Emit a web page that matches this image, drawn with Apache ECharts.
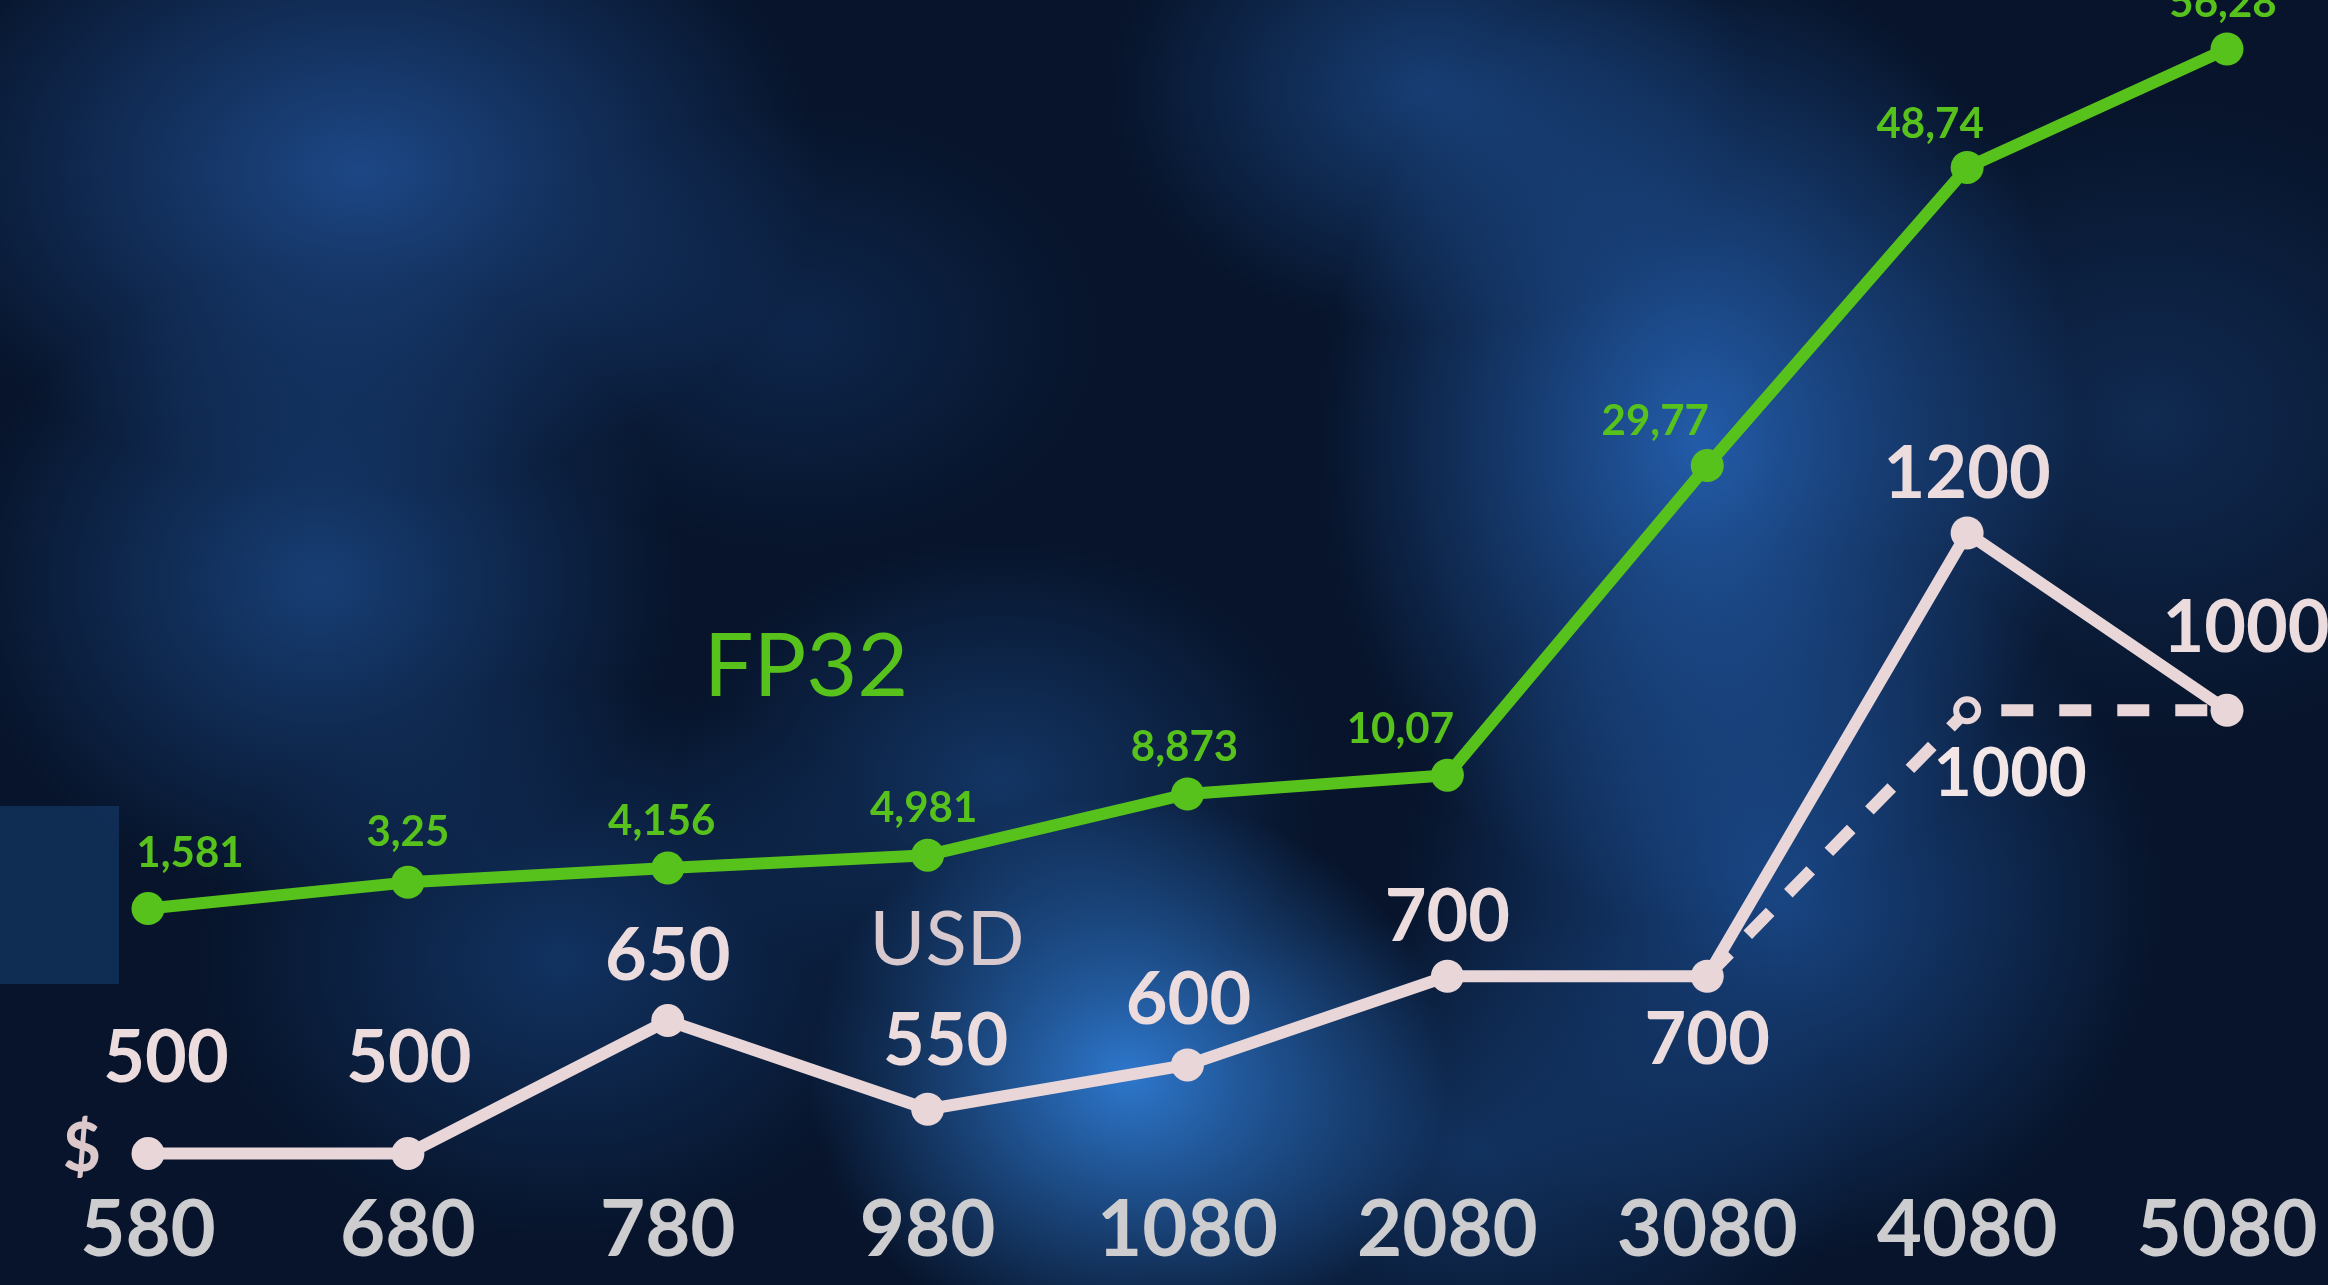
<!DOCTYPE html>
<html>
<head>
<meta charset="utf-8">
<script src="https://cdn.jsdelivr.net/npm/echarts@6/dist/echarts.min.js"></script>
<style>
html,body{margin:0;padding:0;background:#061226;}
#chart{width:2328px;height:1285px;
background:
 radial-gradient(ellipse 320px 280px at 1128px 1075px, rgba(50,130,222,0.9), rgba(50,130,222,0) 100%),
 radial-gradient(ellipse 380px 480px at 1700px 440px, rgba(40,105,192,0.85), rgba(40,105,192,0) 100%),
 radial-gradient(ellipse 380px 360px at 1780px 900px, rgba(32,90,168,0.7), rgba(32,90,168,0) 100%),
 radial-gradient(ellipse 460px 320px at 360px 170px, rgba(34,84,156,0.8), rgba(34,84,156,0) 100%),
 radial-gradient(ellipse 360px 320px at 320px 580px, rgba(30,80,148,0.7), rgba(30,80,148,0) 100%),
 radial-gradient(ellipse 360px 280px at 560px 960px, rgba(24,70,132,0.6), rgba(24,70,132,0) 100%),
 radial-gradient(ellipse 320px 240px at 1430px 90px, rgba(30,80,148,0.7), rgba(30,80,148,0) 100%),
 radial-gradient(ellipse 380px 320px at 2150px 420px, rgba(24,60,112,0.55), rgba(24,60,112,0) 100%),
 radial-gradient(ellipse 320px 240px at 1000px 780px, rgba(27,75,138,0.6), rgba(27,75,138,0) 100%),
 radial-gradient(ellipse 380px 240px at 1480px 1150px, rgba(27,75,138,0.55), rgba(27,75,138,0) 100%),
 radial-gradient(ellipse 300px 220px at 800px 330px, rgba(22,60,115,0.45), rgba(22,60,115,0) 100%),
 #07142b;}
</style>
</head>
<body>
<div id="chart"></div>
<script>
// ---- data ----
const categories = ['580', '680', '780', '980', '1080', '2080', '3080', '4080', '5080'];
const fp32 = [1.581, 3.25, 4.156, 4.981, 8.873, 10.07, 29.77, 48.74, 56.28];
const usd = [500, 500, 650, 550, 600, 700, 700, 1200, 1000];
const usdAlt = [null, null, null, null, null, null, 700, 1000, 1000];
const usdAltLabelIndex = 7;

// ---- label layout (style only) ----
const fpLabelOffsets = [[42,-55],[0,-50],[-6,-47],[-4,-47],[-3,-47],[-47,-46],[-52,-44],[-37,-43],[-4,-46]];
const usdLabelOffsets = [[18,-95],[1,-95],[0,-64],[18,-67],[1,-64],[0,-58],[0,65],[0,-58],[19,-82]];
const usdAltLabelOffset = [43, 64];

const GREEN = '#58c21c';
const PINK = '#e9d6d8';

const chart = echarts.init(document.getElementById('chart'), null, {renderer: 'canvas'});
const labelFont = 'Lato, "Open Sans", sans-serif';

chart.setOption({
  animation: false,
  backgroundColor: 'transparent',
  grid: {left: 148, right: 101, top: 40, bottom: 105},
  xAxis: {
    type: 'category', data: categories, boundaryGap: false,
    axisLine: {show: false}, axisTick: {show: false}, splitLine: {show: false},
    axisLabel: {color: '#cdcdcf', fontSize: 78, fontWeight: 'bold', fontFamily: labelFont, margin: 12}
  },
  yAxis: [
    {type: 'value', min: -15.69, max: 56.85, show: false, splitLine: {show: false}},
    {type: 'value', min: 470.2, max: 1756.1, show: false, splitLine: {show: false}}
  ],
  graphic: [
    {type: 'rect', z: -10, shape: {x: 0, y: 806, width: 119, height: 178}, style: {fill: 'rgba(22,60,110,0.6)'}},
    {type: 'text', x: 806, y: 668, style: {text: 'FP32', fill: GREEN, font: 'normal 88px Lato, "Open Sans", sans-serif', textAlign: 'center', textVerticalAlign: 'middle'}},
    {type: 'text', x: 947, y: 940, style: {text: 'USD', fill: '#d8c9cf', font: 'normal 76px Lato, "Open Sans", sans-serif', textAlign: 'center', textVerticalAlign: 'middle'}},
    {type: 'text', x: 82, y: 1150, style: {text: '$', fill: '#dcc8ca', font: 'bold 66px Lato, "Open Sans", sans-serif', textAlign: 'center', textVerticalAlign: 'middle'}}
  ],
  series: [
    {
      name: 'FP32', type: 'line', yAxisIndex: 0,
      symbol: 'circle', symbolSize: 33,
      lineStyle: {color: GREEN, width: 12},
      itemStyle: {color: GREEN},
      data: fp32.map((v, i) => ({
        value: v,
        label: {show: true, position: 'inside', offset: fpLabelOffsets[i]}
      })),
      label: {
        color: GREEN, fontSize: 42, fontWeight: 'bold', fontFamily: labelFont,
        formatter: p => String(p.value).replace('.', ',')
      },
      z: 3
    },
    {
      name: 'USD alt', type: 'line', yAxisIndex: 1,
      symbol: 'circle',
      symbolSize: (v, p) => p.dataIndex === usdAltLabelIndex ? 22 : 0,
      lineStyle: {color: PINK, width: 12, type: [32, 26]},
      itemStyle: {color: '#0c2246', borderColor: PINK, borderWidth: 6},
      data: usdAlt.map((v, i) => i === usdAltLabelIndex ? {
        value: v,
        label: {show: true, position: 'inside', offset: usdAltLabelOffset}
      } : v),
      label: {color: '#f3e6e6', fontSize: 66, fontWeight: 'bold', fontFamily: labelFont},
      z: 2
    },
    {
      name: 'USD', type: 'line', yAxisIndex: 1,
      symbol: 'circle', symbolSize: 33,
      lineStyle: {color: PINK, width: 12},
      itemStyle: {color: PINK},
      data: usd.map((v, i) => ({
        value: v,
        label: {show: true, position: 'inside', offset: usdLabelOffsets[i]}
      })),
      label: {color: '#ecdcdd', fontSize: 72, fontWeight: 'bold', fontFamily: labelFont},
      z: 4
    }
  ]
});
</script>
</body>
</html>
